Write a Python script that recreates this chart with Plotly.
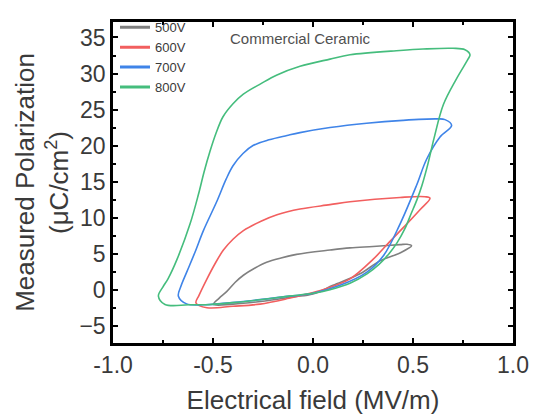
import plotly.graph_objects as go

# ---- data ----
series_names = ["500V", "600V", "700V", "800V"]
series_colors = ["#808080", "#f25f5f", "#3f84e8", "#45bd7d"]

x_500 = [-0.498, -0.40, -0.25, -0.10, 0.00, 0.10, 0.235, 0.335, 0.435, 0.493,
         0.47, 0.435, 0.30, 0.185, 0.085, -0.082, -0.16, -0.232, -0.29, -0.348,
         -0.39, -0.432, -0.47, -0.498]
y_500 = [-2.05, -2.0, -1.6, -1.0, -0.6, 0.6, 2.2, 4.0, 5.1, 6.1,
         6.3, 6.25, 6.0, 5.8, 5.5, 4.9, 4.4, 3.8, 3.0, 2.0,
         1.0, -0.27, -1.2, -2.05]

x_600 = [-0.585, -0.53, -0.40, -0.265, -0.12, -0.015, 0.068, 0.185, 0.30, 0.385,
         0.468, 0.535, 0.585, 0.56, 0.435, 0.185, 0.085, -0.065, -0.18, -0.26,
         -0.348, -0.40, -0.448, -0.49, -0.53, -0.57, -0.585]
y_600 = [-1.84, -2.5, -2.3, -2.0, -1.2, -0.5, 0.17, 1.5, 4.2, 6.7,
         9.1, 11.1, 12.7, 12.9, 12.8, 12.2, 11.8, 11.2, 10.4, 9.5,
         8.2, 7.0, 5.5, 3.6, 1.5, -0.8, -1.84]

x_700 = [-0.673, -0.632, -0.55, -0.45, -0.30, -0.15, 0.00, 0.135, 0.268, 0.352,
         0.435, 0.518, 0.568, 0.635, 0.693, 0.66, 0.62, 0.45, 0.268, 0.085,
         -0.065, -0.13, -0.22, -0.30, -0.35, -0.40, -0.435, -0.48, -0.548, -0.59,
         -0.632, -0.66, -0.673]
y_700 = [-0.9, -1.97, -2.1, -1.9, -1.5, -1.0, -0.5, 0.6, 2.4, 4.7,
         9.1, 14.5, 18.1, 21.2, 22.8, 23.6, 23.7, 23.5, 23.1, 22.5,
         21.8, 21.4, 20.8, 20.0, 18.9, 17.2, 15.3, 12.3, 8.2, 5.2,
         2.4, 0.5, -0.9]

x_800 = [-0.773, -0.74, -0.62, -0.515, -0.40, -0.265, -0.12, 0.00, 0.085, 0.185,
         0.27, 0.33, 0.38, 0.42, 0.46, 0.49, 0.52, 0.545, 0.575, 0.605,
         0.652, 0.718, 0.775, 0.785, 0.76, 0.70, 0.55, 0.435, 0.185, 0.085,
         -0.065, -0.18, -0.26, -0.35, -0.40, -0.45, -0.485, -0.515, -0.545, -0.573,
         -0.615, -0.68, -0.725, -0.75, -0.773]
y_800 = [-0.9, -2.05, -2.1, -2.05, -1.8, -1.4, -0.9, -0.5, 0.0, 0.9,
         2.2, 3.5, 5.0, 6.5, 8.5, 10.5, 12.5, 14.5, 17.5, 21.0,
         25.7, 29.3, 32.0, 32.6, 33.3, 33.5, 33.4, 33.2, 32.6, 32.0,
         31.0, 29.8, 28.6, 27.1, 25.8, 24.0, 21.7, 19.2, 16.3, 13.2,
         9.1, 4.2, 1.5, 0.4, -0.9]

xs = [x_500, x_600, x_700, x_800]
ys = [y_500, y_600, y_700, y_800]

x_ticks = [-1.0, -0.5, 0.0, 0.5, 1.0]
x_tick_text = ["-1.0", "-0.5", "0.0", "0.5", "1.0"]
y_ticks = [-5, 0, 5, 10, 15, 20, 25, 30, 35]

annotation_text = "Commercial Ceramic"
x_title = "Electrical field (MV/m)"
y_title = "Measured Polarization<br>(μC/cm<sup>2</sup>)"

FONT = "Liberation Sans, Arial, sans-serif"
TEXT = "#3a3a3a"

fig = go.Figure()
for name, color, x, y in zip(series_names, series_colors, xs, ys):
    fig.add_trace(go.Scatter(x=x, y=y, mode="lines", name=name,
                             line=dict(color=color, width=1.6, shape="spline", smoothing=1.0),
                             showlegend=False, hoverinfo="skip"))
# legend entries (thicker sample lines as in the reference)
for name, color in zip(series_names, series_colors):
    fig.add_trace(go.Scatter(x=[None], y=[None], mode="lines", name=name,
                             line=dict(color=color, width=3)))

fig.add_annotation(x=-0.065, y=34.9, text=annotation_text, showarrow=False,
                   font=dict(family=FONT, size=15, color="#505050"))

axis_common = dict(showline=True, linecolor="black", linewidth=2.5, mirror="ticks",
                   ticks="inside", ticklen=5, tickwidth=1.5, tickcolor="black",
                   showgrid=False, zeroline=False, automargin=False,
                   tickfont=dict(family=FONT, size=23, color=TEXT))

fig.update_xaxes(range=[-1.0, 1.0], tickvals=x_ticks, ticktext=x_tick_text,
                 minor=dict(dtick=0.25, ticks="inside", ticklen=3, tickcolor="black", tickwidth=1.5),
                 title=dict(text=x_title, font=dict(family=FONT, size=26, color=TEXT), standoff=14),
                 **axis_common)
fig.update_yaxes(range=[-7.4, 37.15], tickvals=y_ticks,
                 minor=dict(dtick=2.5, ticks="inside", ticklen=3, tickcolor="black", tickwidth=1.5),
                 title=dict(text=y_title, font=dict(family=FONT, size=26, color=TEXT), standoff=4),
                 **axis_common)

fig.update_layout(
    width=534, height=416,
    margin=dict(l=113, r=21, t=12, b=73),
    plot_bgcolor="white", paper_bgcolor="white",
    legend=dict(x=0.005, y=1.03, xanchor="left", yanchor="top",
                bgcolor="rgba(0,0,0,0)", font=dict(family=FONT, size=13, color=TEXT),
                itemwidth=30, tracegroupgap=0),
)

fig.write_html("out.html", config={"displayModeBar": False},
               post_script="document.body.style.margin='0px';document.body.style.overflow='hidden';")
